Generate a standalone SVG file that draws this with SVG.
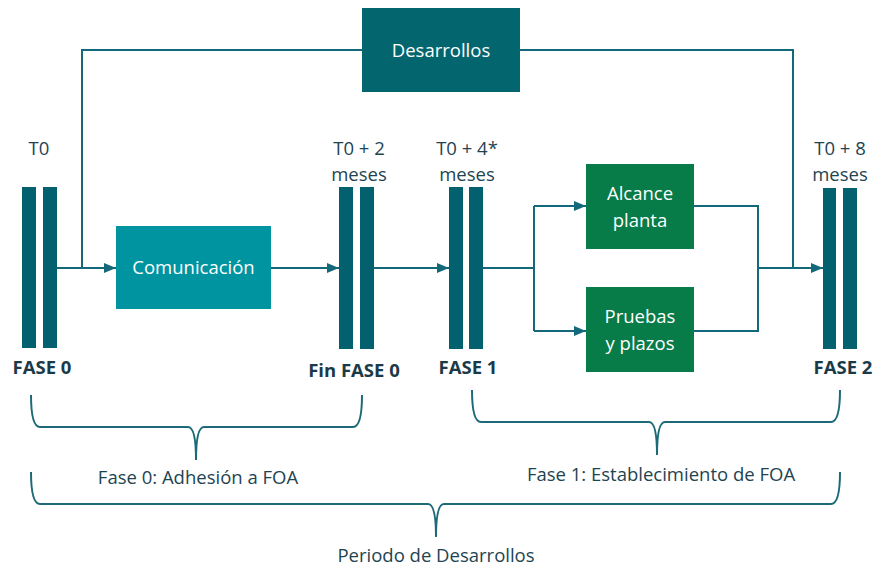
<svg xmlns="http://www.w3.org/2000/svg" width="874" height="568" viewBox="0 0 874 568">
<defs>
<marker id="arr" viewBox="0 0 12 10" refX="12" refY="5" markerWidth="12" markerHeight="10" markerUnits="userSpaceOnUse" orient="auto">
<path d="M0,0 L12,5 L0,10 Z" fill="#13697A"/>
</marker>
<style>
.bar{fill:#03616F}
.ln{fill:none;stroke:#13697A;stroke-width:2}
.br{fill:none;stroke:#1C6A78;stroke-width:2}
.lbl{font-family:"Open Sans","Noto Sans",sans-serif;font-size:18.5px;fill:#1E4452;text-anchor:middle}
.bold{font-family:"Open Sans","Noto Sans",sans-serif;font-size:18.5px;font-weight:bold;fill:#1B3A48;text-anchor:middle}
.wt{font-family:"Open Sans","Noto Sans",sans-serif;font-size:18.5px;fill:#FFFFFF;text-anchor:middle}
</style>
</defs>
<rect width="874" height="568" fill="#FFFFFF"/>
<g id="connectors">
<path class="ln" d="M82,268 L82,50 L793,50 L793,268"/>
<path class="ln" d="M57,268 L116,268" marker-end="url(#arr)"/>
<path class="ln" d="M271,268 L339,268" marker-end="url(#arr)"/>
<path class="ln" d="M374,268 L449,268" marker-end="url(#arr)"/>
<path class="ln" d="M483,268 L534,268"/>
<path class="ln" d="M534,206 L534,331"/>
<path class="ln" d="M534,206 L586,206" marker-end="url(#arr)"/>
<path class="ln" d="M534,331 L586,331" marker-end="url(#arr)"/>
<path class="ln" d="M694,206 L758,206 L758,331 L694,331"/>
<path class="ln" d="M758,268 L823,268" marker-end="url(#arr)"/>
</g>
<g id="desarrollos">
<rect x="362" y="8" width="158" height="84" fill="#03666F"/>
<text class="wt" x="441" y="57">Desarrollos</text>
</g>
<g id="comunicacion">
<rect x="116" y="226" width="155" height="83" fill="#0093A0"/>
<text class="wt" x="193.5" y="274">Comunicación</text>
</g>
<g id="alcance">
<rect x="586" y="164" width="108" height="85" fill="#077B48"/>
<text class="wt" x="640" y="200">Alcance</text>
<text class="wt" x="640" y="227">planta</text>
</g>
<g id="pruebas">
<rect x="586" y="287" width="108" height="85" fill="#077B48"/>
<text class="wt" x="640" y="323">Pruebas</text>
<text class="wt" x="640" y="350">y plazos</text>
</g>
<g id="fase0">
<rect class="bar" x="22" y="187" width="14" height="161"/>
<rect class="bar" x="43" y="187" width="14" height="161"/>
<text class="lbl" x="39" y="155">T0</text>
<text class="bold" x="42" y="374">FASE 0</text>
</g>
<g id="finfase0">
<rect class="bar" x="339" y="187" width="14" height="162"/>
<rect class="bar" x="360" y="187" width="14" height="162"/>
<text class="lbl" x="359" y="155">T0 + 2</text>
<text class="lbl" x="359" y="181">meses</text>
<text class="bold" x="354" y="377">Fin FASE 0</text>
</g>
<g id="fase1">
<rect class="bar" x="449" y="187" width="14" height="162"/>
<rect class="bar" x="469" y="187" width="14" height="162"/>
<text class="lbl" x="467" y="155">T0 + 4*</text>
<text class="lbl" x="467" y="181">meses</text>
<text class="bold" x="468" y="374">FASE 1</text>
</g>
<g id="fase2">
<rect class="bar" x="823" y="188" width="13" height="161"/>
<rect class="bar" x="843" y="188" width="14" height="161"/>
<text class="lbl" x="840" y="155">T0 + 8</text>
<text class="lbl" x="840" y="181">meses</text>
<text class="bold" x="843" y="374">FASE 2</text>
</g>
<g id="brace-fase0">
<path class="br" d="M31,395 Q31,427 40,427 L188,427 Q196,427 196,460 Q196,427 204,427 L353,427 Q362,427 362,395"/>
<text class="lbl" x="198" y="484">Fase 0: Adhesión a FOA</text>
</g>
<g id="brace-fase1">
<path class="br" d="M472,390 Q472,422 481,422 L649,422 Q657,422 657,455 Q657,422 665,422 L831,422 Q840,422 840,390"/>
<text class="lbl" x="661" y="481">Fase 1: Establecimiento de FOA</text>
</g>
<g id="brace-periodo">
<path class="br" d="M31,472 Q31,504 40,504 L428,504 Q436,504 436,537 Q436,504 444,504 L831,504 Q840,504 840,472"/>
<text class="lbl" x="436" y="562">Periodo de Desarrollos</text>
</g>
</svg>
